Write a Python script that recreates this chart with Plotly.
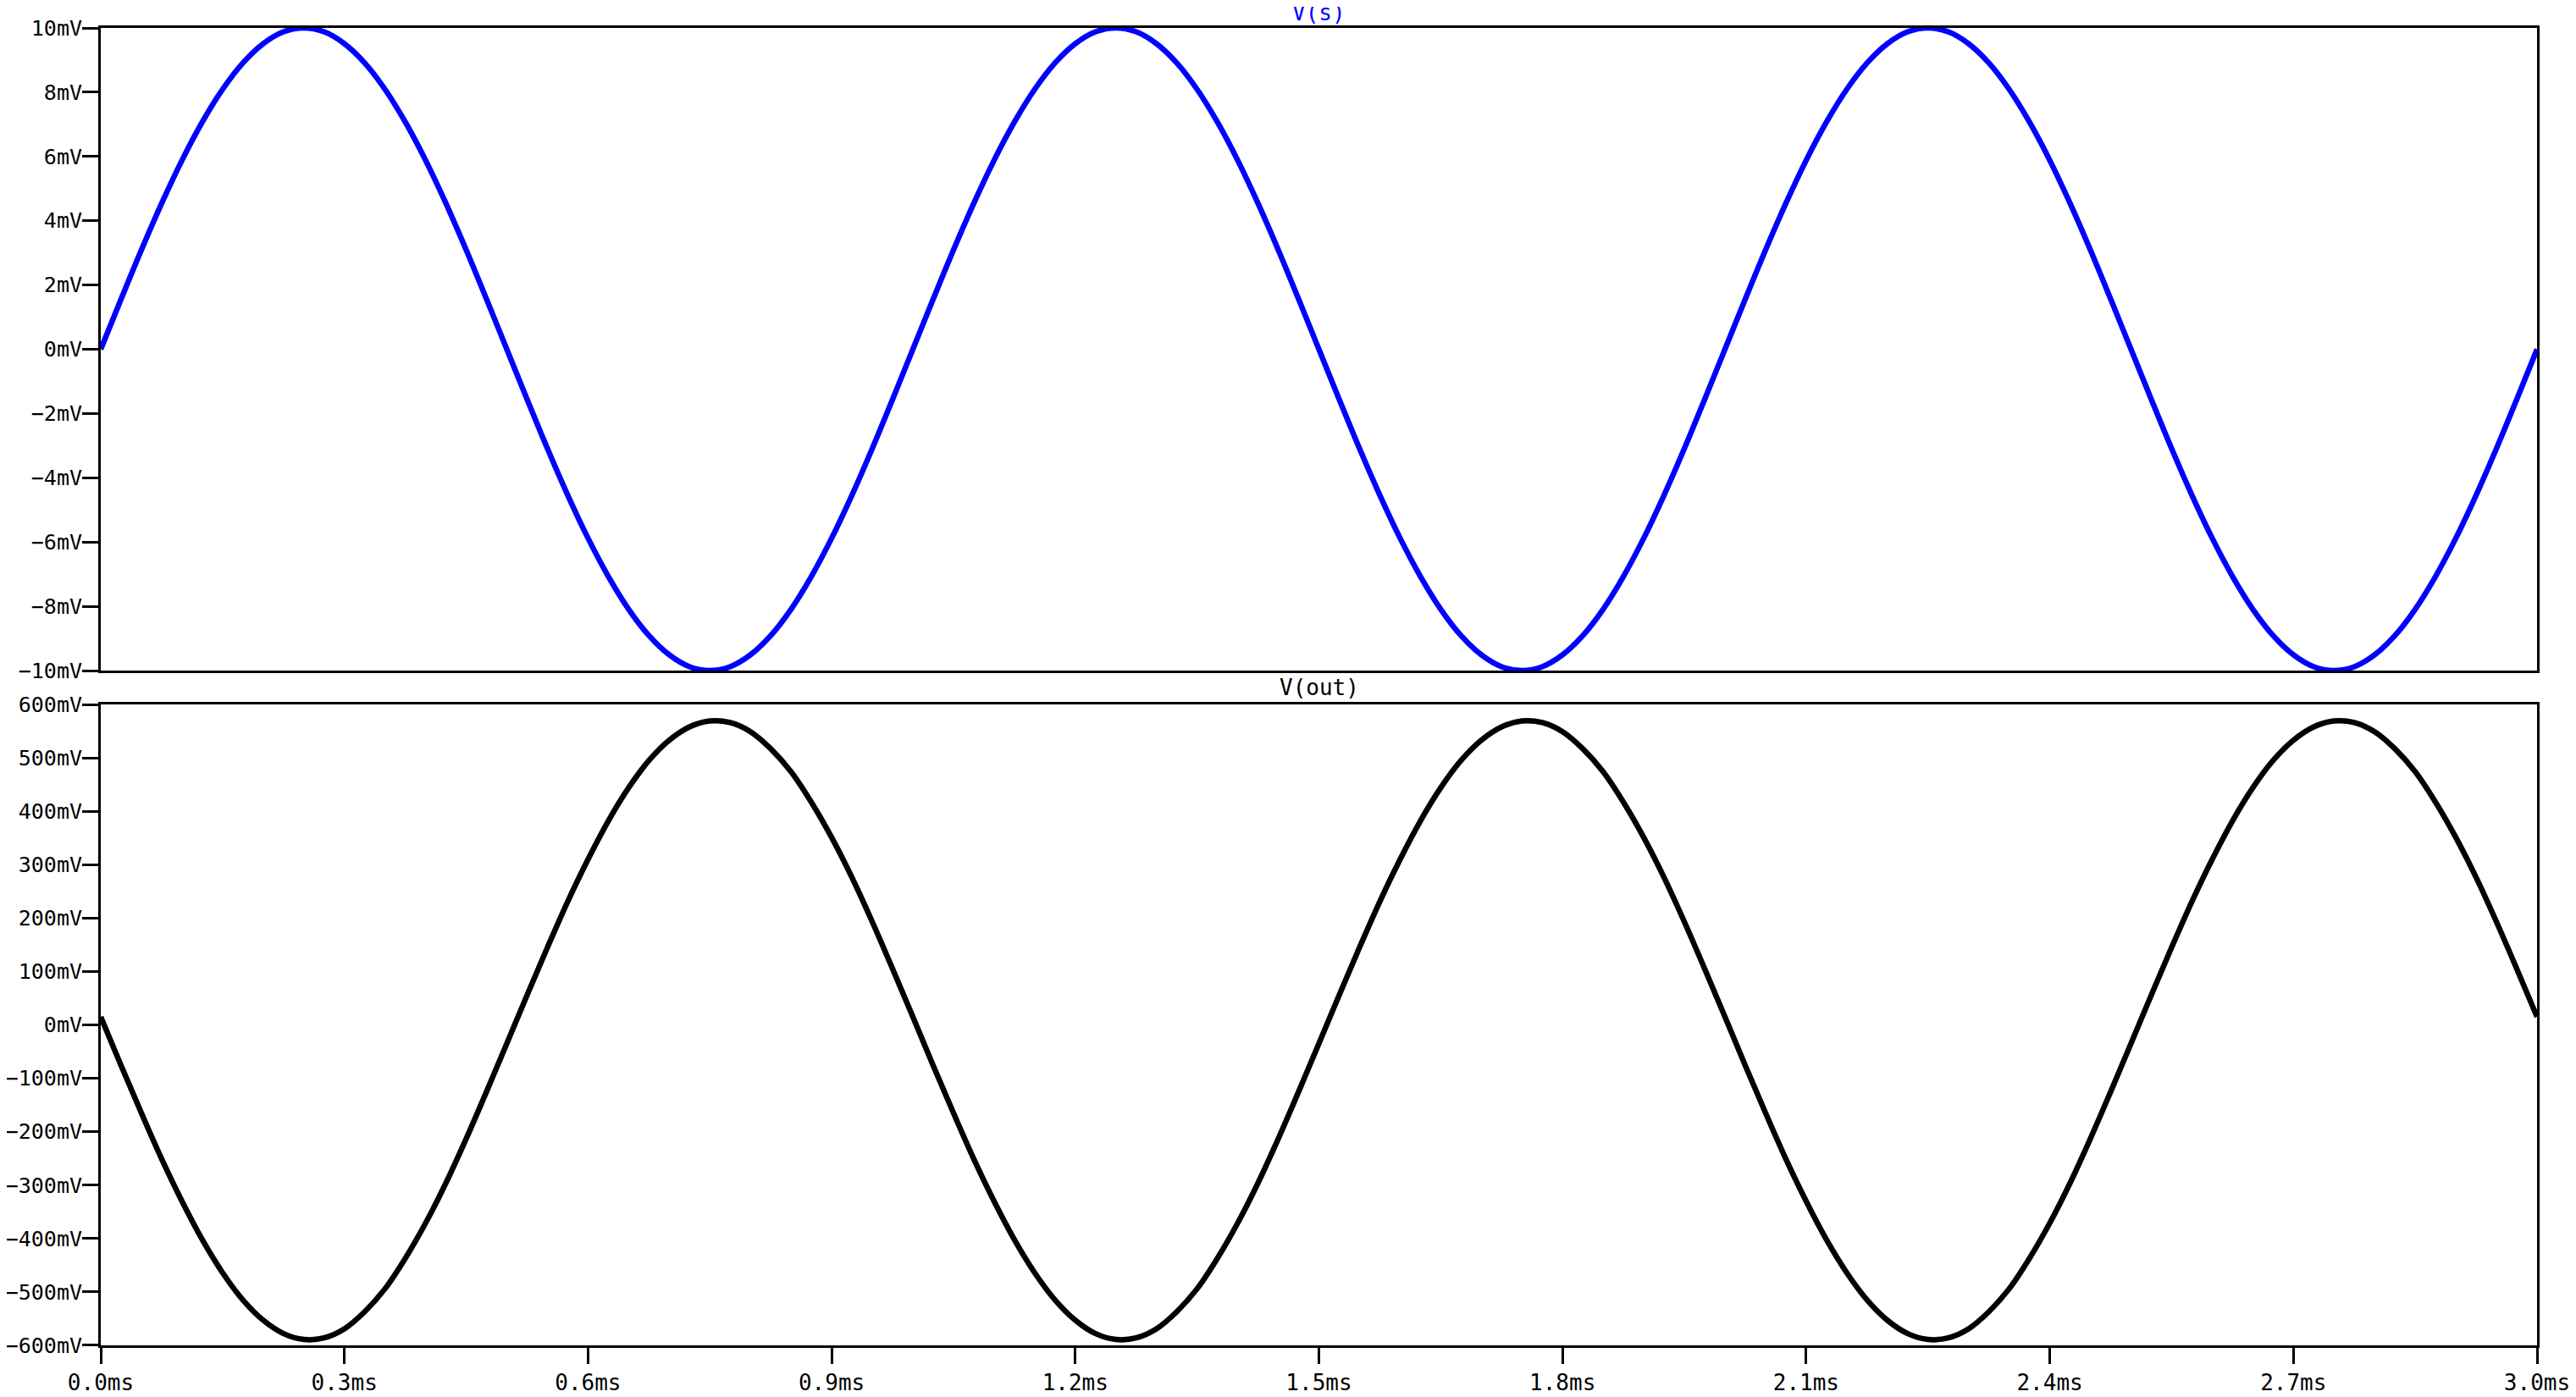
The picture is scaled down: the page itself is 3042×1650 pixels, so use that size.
import plotly.graph_objects as go

# time axis (ms), 0.025 ms steps
time_ms = [round(i * 0.025, 3) for i in range(121)]

# V(s) in mV
vs_mV = [
    0, 1.56, 3.09, 4.54, 5.88, 7.07, 8.09, 8.91, 9.51, 9.88,
    10, 9.88, 9.51, 8.91, 8.09, 7.07, 5.88, 4.54, 3.09, 1.56,
    0, -1.56, -3.09, -4.54, -5.88, -7.07, -8.09, -8.91, -9.51, -9.88,
    -10, -9.88, -9.51, -8.91, -8.09, -7.07, -5.88, -4.54, -3.09, -1.56,
    0, 1.56, 3.09, 4.54, 5.88, 7.07, 8.09, 8.91, 9.51, 9.88,
    10, 9.88, 9.51, 8.91, 8.09, 7.07, 5.88, 4.54, 3.09, 1.56,
    0, -1.56, -3.09, -4.54, -5.88, -7.07, -8.09, -8.91, -9.51, -9.88,
    -10, -9.88, -9.51, -8.91, -8.09, -7.07, -5.88, -4.54, -3.09, -1.56,
    0, 1.56, 3.09, 4.54, 5.88, 7.07, 8.09, 8.91, 9.51, 9.88,
    10, 9.88, 9.51, 8.91, 8.09, 7.07, 5.88, 4.54, 3.09, 1.56,
    0, -1.56, -3.09, -4.54, -5.88, -7.07, -8.09, -8.91, -9.51, -9.88,
    -10, -9.88, -9.51, -8.91, -8.09, -7.07, -5.88, -4.54, -3.09, -1.56,
    0,
]

# V(out) in mV
vout_mV = [
    15, -76, -165, -251, -330, -402, -464, -515, -553, -578,
    -589, -586, -569, -537, -494, -437, -371, -296, -213, -125,
    -35, 56, 145, 231, 310, 382, 444, 495, 533, 558,
    569, 566, 549, 517, 474, 417, 351, 276, 193, 105,
    15, -76, -165, -251, -330, -402, -464, -515, -553, -578,
    -589, -586, -569, -537, -494, -437, -371, -296, -213, -125,
    -35, 56, 145, 231, 310, 382, 444, 495, 533, 558,
    569, 566, 549, 517, 474, 417, 351, 276, 193, 105,
    15, -76, -165, -251, -330, -402, -464, -515, -553, -578,
    -589, -586, -569, -537, -494, -437, -371, -296, -213, -125,
    -35, 56, 145, 231, 310, 382, 444, 495, 533, 558,
    569, 566, 549, 517, 474, 417, 351, 276, 193, 105,
    15,
]

x_tickvals = [0.0, 0.3, 0.6, 0.9, 1.2, 1.5, 1.8, 2.1, 2.4, 2.7, 3.0]
x_ticktext = ["0.0ms", "0.3ms", "0.6ms", "0.9ms", "1.2ms", "1.5ms",
              "1.8ms", "2.1ms", "2.4ms", "2.7ms", "3.0ms"]

vs_tickvals = [10, 8, 6, 4, 2, 0, -2, -4, -6, -8, -10]
vs_ticktext = ["10mV", "8mV", "6mV", "4mV", "2mV", "0mV",
               "\u22122mV", "\u22124mV", "\u22126mV", "\u22128mV", "\u221210mV"]

vout_tickvals = [600, 500, 400, 300, 200, 100, 0, -100, -200, -300, -400, -500, -600]
vout_ticktext = ["600mV", "500mV", "400mV", "300mV", "200mV", "100mV", "0mV",
                 "\u2212100mV", "\u2212200mV", "\u2212300mV", "\u2212400mV",
                 "\u2212500mV", "\u2212600mV"]

FONT = "DejaVu Sans Mono"
FS = 26
YFS = 25

fig = go.Figure()
fig.add_trace(go.Scatter(x=time_ms, y=vs_mV, mode="lines",
                         line=dict(color="#0000ff", width=6.5, shape="spline"),
                         xaxis="x", yaxis="y", showlegend=False))
fig.add_trace(go.Scatter(x=time_ms, y=vout_mV, mode="lines",
                         line=dict(color="#000000", width=6.5, shape="spline"),
                         xaxis="x2", yaxis="y2", showlegend=False))

axis_common = dict(showline=True, linecolor="black", linewidth=3, mirror=True,
                   showgrid=False, zeroline=False, automargin=False)

fig.update_layout(
    width=3034, height=1642,
    margin=dict(l=111, r=46, t=25, b=61),
    paper_bgcolor="white", plot_bgcolor="white",
    font=dict(family=FONT, size=FS, color="black"),
    xaxis=dict(domain=[0, 1], anchor="y", range=[0, 3.0], ticks="",
               showticklabels=False, matches="x2", **axis_common),
    yaxis=dict(domain=[0.5122, 1], anchor="x", range=[-10, 10],
               tickvals=vs_tickvals, ticktext=vs_ticktext,
               tickfont=dict(family=FONT, size=YFS, color="black"),
               ticks="outside", ticklen=19, tickwidth=3, tickcolor="black",
               ticklabelstandoff=-5, **axis_common),
    xaxis2=dict(domain=[0, 1], anchor="y2", range=[0, 3.0],
                tickvals=x_tickvals, ticktext=x_ticktext,
                ticks="outside", ticklen=19, tickwidth=3, tickcolor="black",
                **axis_common),
    yaxis2=dict(domain=[0, 0.4865], anchor="x2", range=[-600, 600],
                tickvals=vout_tickvals, ticktext=vout_ticktext,
                tickfont=dict(family=FONT, size=YFS, color="black"),
                ticks="outside", ticklen=19, tickwidth=3, tickcolor="black",
                ticklabelstandoff=-5, **axis_common),
    annotations=[
        dict(text="V(s)", xref="paper", yref="paper", x=0.5, y=1.0116,
             xanchor="center", yanchor="middle", showarrow=False,
             font=dict(family=FONT, size=26, color="#0000ff")),
        dict(text="V(out)", xref="paper", yref="paper", x=0.5, y=0.4994,
             xanchor="center", yanchor="middle", showarrow=False,
             font=dict(family=FONT, size=26, color="black")),
    ],
)

fig.write_html("out.html")
